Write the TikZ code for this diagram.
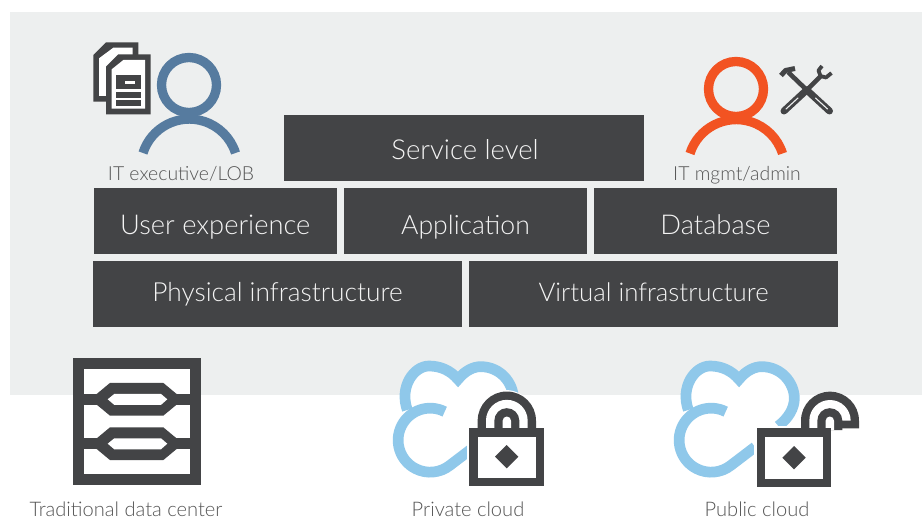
\documentclass[tikz,border=0pt]{standalone}
\usepackage{fontspec}
\setmainfont{Lato Light}
\definecolor{panel}{HTML}{EDEFEF}
\definecolor{dark}{HTML}{434446}
\definecolor{boxtext}{HTML}{F4F4F4}
\definecolor{labeltext}{HTML}{555555}
\definecolor{execblue}{HTML}{567B9F}
\definecolor{adminorange}{HTML}{F25322}
\definecolor{cloudblue}{HTML}{8FC8EA}
\tikzset{
  barbox/.style={fill=dark,text=boxtext,inner sep=0pt,
    text height=2*#1,text depth=0pt},
  barfont/.style={font=\fontsize{#1}{28}\selectfont},
  caption/.style={text=labeltext,inner sep=0pt,anchor=base,font=\fontsize{#1}{22}\selectfont},
  zoomed/.style={x=0.33333pt,y=-0.33333pt},
}
\newcommand{\cloudicon}{%
  \fill[white] (153,271) circle[radius=96];
  \fill[white] (85,180) .. controls (60,110) and (105,48) .. (150,48)
     .. controls (185,48) and (215,62) .. (237,88)
     .. controls (260,60) and (285,50) .. (305,50)
     .. controls (365,50) and (403,100) .. (403,145)
     .. controls (403,175) and (385,205) .. (355,228) -- (285,291) -- (214,348) -- (153,271) -- cycle;
  \draw[cloudblue,line width=10.7pt] (197,185) arc[start angle=-63,end angle=-308.6,radius=96] -- (285,291);
  \draw[cloudblue,line width=10.7pt] (85,180) .. controls (60,110) and (105,48) .. (150,48)
     .. controls (185,48) and (215,62) .. (237,88)
     .. controls (260,60) and (285,50) .. (305,50)
     .. controls (365,50) and (403,100) .. (403,145)
     .. controls (403,175) and (385,205) .. (355,228);
}
\begin{document}
\begin{tikzpicture}[x=1pt,y=-1pt]
\useasboundingbox (0,0) rectangle (922,519);
\fill[white] (0,0) rectangle (922,519);
\fill[panel] (10,12) rectangle (922,394.5);

% bars
\node[barbox=11,barfont=27.5,minimum width=360pt,minimum height=65.5pt] (service) at (464,148.2) {\hspace{2pt}Service level};
\node[barbox=12.8,barfont=27.3,minimum width=243.5pt,minimum height=65.5pt] (user) at (215.25,221.2) {User experience};
\node[barbox=12.8,barfont=26.6,minimum width=243pt,minimum height=65.5pt] (app) at (465.5,221.2) {Application};
\node[barbox=12.8,barfont=27.3,minimum width=243pt,minimum height=65.5pt] (db) at (715.5,221.2) {Database};
\node[barbox=7.8,barfont=26.3,minimum width=369pt,minimum height=66pt] (phys) at (277.5,294) {Physical infrastructure};
\node[barbox=7.8,barfont=25.8,minimum width=369pt,minimum height=66pt] (virt) at (653.5,294) {Virtual infrastructure};

% captions
\node[caption=19.4] (execlabel) at (181,180.5) {IT executive/LOB};
\node[caption=19.4] (adminlabel) at (737,180.5) {IT mgmt/admin};
\node[caption=20.1] (dclabel) at (126,516.5) {Traditional data center};
\node[caption=20.1] (privlabel) at (468,516.5) {Private cloud};
\node[caption=20.1] (publabel) at (757,516.5) {Public cloud};

% executive person
\draw[execblue,line width=9.3pt] (189,85) circle[radius=27.5];
\draw[execblue,line width=9.3pt] (143,153) arc[start angle=197.5,end angle=342.5,radius=48.5];
% admin person
\draw[adminorange,line width=9.3pt] (736,89) circle[radius=27.5];
\draw[adminorange,line width=9.3pt] (690,153.5) arc[start angle=197.5,end angle=342.5,radius=48.5];

% documents
\begin{scope}[shift={(80,30)},zoomed]
  \fill[dark] (40,75) -- (78,37) -- (175,37) -- (175,215) -- (40,215) -- cycle;
  \fill[white] (57,85) -- (100,53) -- (158,53) -- (158,198) -- (57,198) -- cycle;
  \fill[dark] (78,110) -- (115,73) -- (212,73) -- (212,253) -- (78,253) -- cycle;
  \fill[white] (95,118) -- (130,90) -- (195,90) -- (195,236) -- (95,236) -- cycle;
  \fill[dark] (108,135) rectangle (183,227);
  \fill[white] (135,152) rectangle (165,163);
  \fill[white] (108,178) rectangle (183,187);
  \fill[white] (108,205) rectangle (183,210);
\end{scope}

% tools
\draw[dark,line width=7pt,line cap=round] (784,111) -- (806.7,90);
\draw[dark,line width=7pt,line cap=round] (829.5,111) -- (806.7,90);
\draw[panel,line width=1.1pt,line cap=round] (786,109) -- (798,98);
\draw[panel,line width=1.1pt,line cap=round] (827.5,109) -- (815.5,98);
\draw[dark,line width=4.6pt] (806.7,90) -- (788,72);
\draw[dark,line width=4.6pt] (806.7,90) -- (821,76);
\draw[dark,line width=5pt,line join=round] (781,75.5) -- (785.5,70.5) -- (795,68.5);
\draw[dark,line width=3.8pt,line join=round] (822,66) -- (818.5,70.5) -- (820.5,76) -- (826,77.5) -- (831.5,73);

% data center rack
\fill[dark] (73,358) rectangle (201,485);
\fill[white] (84,369) rectangle (190,474);
\foreach \cy in {399.3,443.7}{
  \fill[dark] (84,\cy-5.5) rectangle (190,\cy+5.5);
  \fill[dark] (90.3,\cy) -- (110,\cy-16.4) -- (163.3,\cy-16.4) -- (183,\cy) -- (163.3,\cy+16.4) -- (110,\cy+16.4) -- cycle;
  \fill[white] (107.7,\cy) -- (114.3,\cy-5.4) -- (161,\cy-5.4) -- (167.3,\cy) -- (161,\cy+5.6) -- (114.3,\cy+5.6) -- cycle;
}

% private cloud
\begin{scope}[shift={(379,350)},zoomed]
  \cloudicon
  \begin{scope}[shift={(1,0)}]
  \fill[white] (262,227) rectangle (503,416);
  \fill[white] (286,227) -- (286,212) arc[start angle=180,end angle=360,radius=92] -- (474,227) -- cycle;
  \fill[dark] (295,240) -- (295,212) arc[start angle=180,end angle=360,radius=87.5] -- (470,240) -- cycle;
  \fill[white] (320,240) -- (320,212) arc[start angle=180,end angle=360,radius=62.5] -- (445,240) -- cycle;
  \fill[dark] (345,240) -- (345,212) arc[start angle=180,end angle=360,radius=37.5] -- (420,240) -- cycle;
  \fill[white] (370,240) -- (370,212) arc[start angle=180,end angle=360,radius=12.5] -- (395,240) -- cycle;
  \fill[dark] (270,235) rectangle (495,408);
  \fill[white] (295,260) rectangle (470,385);
  \fill[dark] (382,285) -- (417,320) -- (382,355) -- (347,320) -- cycle;
  \end{scope}
\end{scope}

% public cloud
\begin{scope}[shift={(660,350)},zoomed]
  \cloudicon
  \fill[white] (282,227) rectangle (521,418);
  \fill[dark] (423,235) -- (423,212) arc[start angle=180,end angle=360,radius=87] -- (597,235) -- cycle;
  \fill[white] (448,236) -- (448,212) arc[start angle=180,end angle=360,radius=62] -- (497,212) -- (497,236) -- cycle;
  \fill[dark] (472,240) -- (472,212) arc[start angle=180,end angle=360,radius=37.5] -- (547,240) -- cycle;
  \fill[white] (497,240) -- (497,212) arc[start angle=180,end angle=360,radius=12.5] -- (522,240) -- cycle;
  \fill[dark] (290,235) rectangle (513,410);
  \fill[white] (315,260) rectangle (488,387);
  \fill[dark] (402,288) -- (437,323) -- (402,358) -- (367,323) -- cycle;
\end{scope}
\end{tikzpicture}
\end{document}
